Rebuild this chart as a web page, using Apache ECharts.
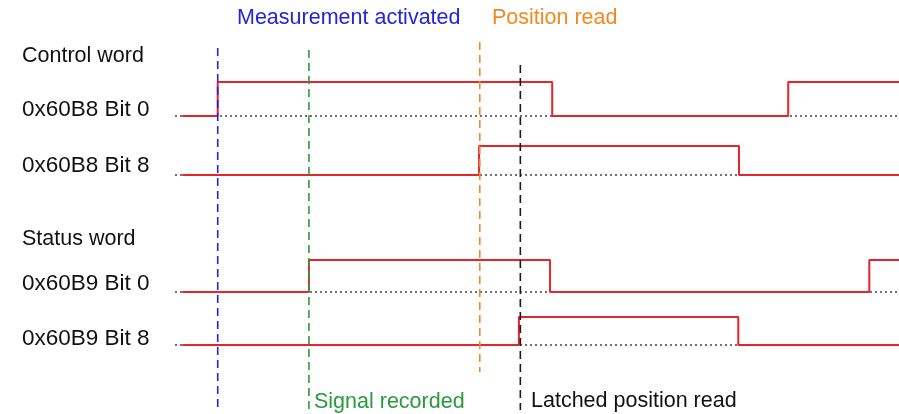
<!DOCTYPE html>
<html>
<head>
<meta charset="utf-8">
<script src="https://cdn.jsdelivr.net/npm/echarts@6/dist/echarts.min.js"></script>
<style>
  html, body { margin: 0; padding: 0; background: #fff; }
  #chart { width: 899px; height: 414px; }
</style>
</head>
<body>
<div id="chart"></div>
<script>
// time axis is 0..100 (arbitrary units), y axis is vertical position (inverted)
const signalNames = ['0x60B8 Bit 0', '0x60B8 Bit 8', '0x60B9 Bit 0', '0x60B9 Bit 8'];
const groupNames = ['Control word', 'Status word'];

// edge times and the level after each edge
const ctrlBit0Times = [1, 5.9, 52.1, 84.7, 100];
const ctrlBit0Levels = [0, 1, 0, 1, 1];
const ctrlBit8Times = [1, 42.0, 77.9, 100];
const ctrlBit8Levels = [0, 1, 0, 0];
const statBit0Times = [1, 18.5, 51.8, 95.9, 100];
const statBit0Levels = [0, 1, 0, 1, 1];
const statBit8Times = [1, 47.5, 77.8, 100];
const statBit8Levels = [0, 1, 0, 0];

// lane baselines and high-level heights on the y axis
const laneBase = [116, 175, 292, 345];
const laneHigh = [34, 29, 32, 28];

// event markers
const eventNames = ['Measurement activated', 'Signal recorded', 'Position read', 'Latched position read'];
const eventTimes = [5.9, 18.5, 42.1, 47.7];
const eventTop = [48, 50, 42, 65];
const eventBottom = [410, 410, 372, 410];
const eventColors = ['#2424dc', '#2a9a3c', '#f28a22', '#1a1a1a'];

const signals = [
  [ctrlBit0Times, ctrlBit0Levels],
  [ctrlBit8Times, ctrlBit8Levels],
  [statBit0Times, statBit0Levels],
  [statBit8Times, statBit8Levels]
];

let series = [];

// dotted baselines
laneBase.forEach(function (b, i) {
  series.push({
    name: signalNames[i] + ' base',
    type: 'line',
    data: [[0, b], [100, b]],
    symbol: 'none',
    silent: true,
    z: 1,
    lineStyle: { color: '#444', width: 1.5, type: [2, 3] }
  });
});

// event lines
eventNames.forEach(function (n, i) {
  series.push({
    name: n,
    type: 'line',
    data: [[eventTimes[i], eventTop[i]], [eventTimes[i], eventBottom[i]]],
    symbol: 'none',
    silent: true,
    z: 3,
    lineStyle: { color: eventColors[i], width: 1.6, type: [8, 5] }
  });
});

// signal traces
signals.forEach(function (s, i) {
  let pts = s[0].map(function (t, k) {
    return [t, laneBase[i] - s[1][k] * laneHigh[i]];
  });
  series.push({
    name: signalNames[i],
    type: 'line',
    step: 'end',
    data: pts,
    symbol: 'none',
    z: 2,
    lineStyle: { color: '#e8232b', width: 2 }
  });
});

const font = '"Liberation Sans", Arial, Helvetica, sans-serif';
const labelY = [108, 164, 282, 337];
const groupY = [55, 238];

let graphic = [];
groupNames.forEach(function (g, i) {
  graphic.push({ type: 'text', left: 22, top: groupY[i] - 10,
    style: { text: g, fill: '#111', font: '21.5px ' + font } });
});
signalNames.forEach(function (n, i) {
  graphic.push({ type: 'text', left: 22, top: labelY[i] - 10,
    style: { text: n, fill: '#111', font: '22.5px ' + font } });
});
// event captions
graphic.push({ type: 'text', left: 237, top: 7,
  style: { text: eventNames[0], fill: eventColors[0], font: '21.5px ' + font } });
graphic.push({ type: 'text', left: 492, top: 7,
  style: { text: eventNames[2], fill: eventColors[2], font: '21.5px ' + font } });
graphic.push({ type: 'text', left: 314, top: 391,
  style: { text: eventNames[1], fill: eventColors[1], font: '21.5px ' + font } });
graphic.push({ type: 'text', left: 531, top: 390,
  style: { text: eventNames[3], fill: '#111', font: '21.5px ' + font } });

let myChart = echarts.init(document.getElementById('chart'));
myChart.setOption({
  animation: false,
  backgroundColor: '#fff',
  grid: { left: 175, right: 0, top: 0, bottom: 0 },
  xAxis: { type: 'value', min: 0, max: 100, show: false },
  yAxis: { type: 'value', min: 0, max: 414, inverse: true, show: false },
  graphic: graphic,
  series: series
});
</script>
</body>
</html>
